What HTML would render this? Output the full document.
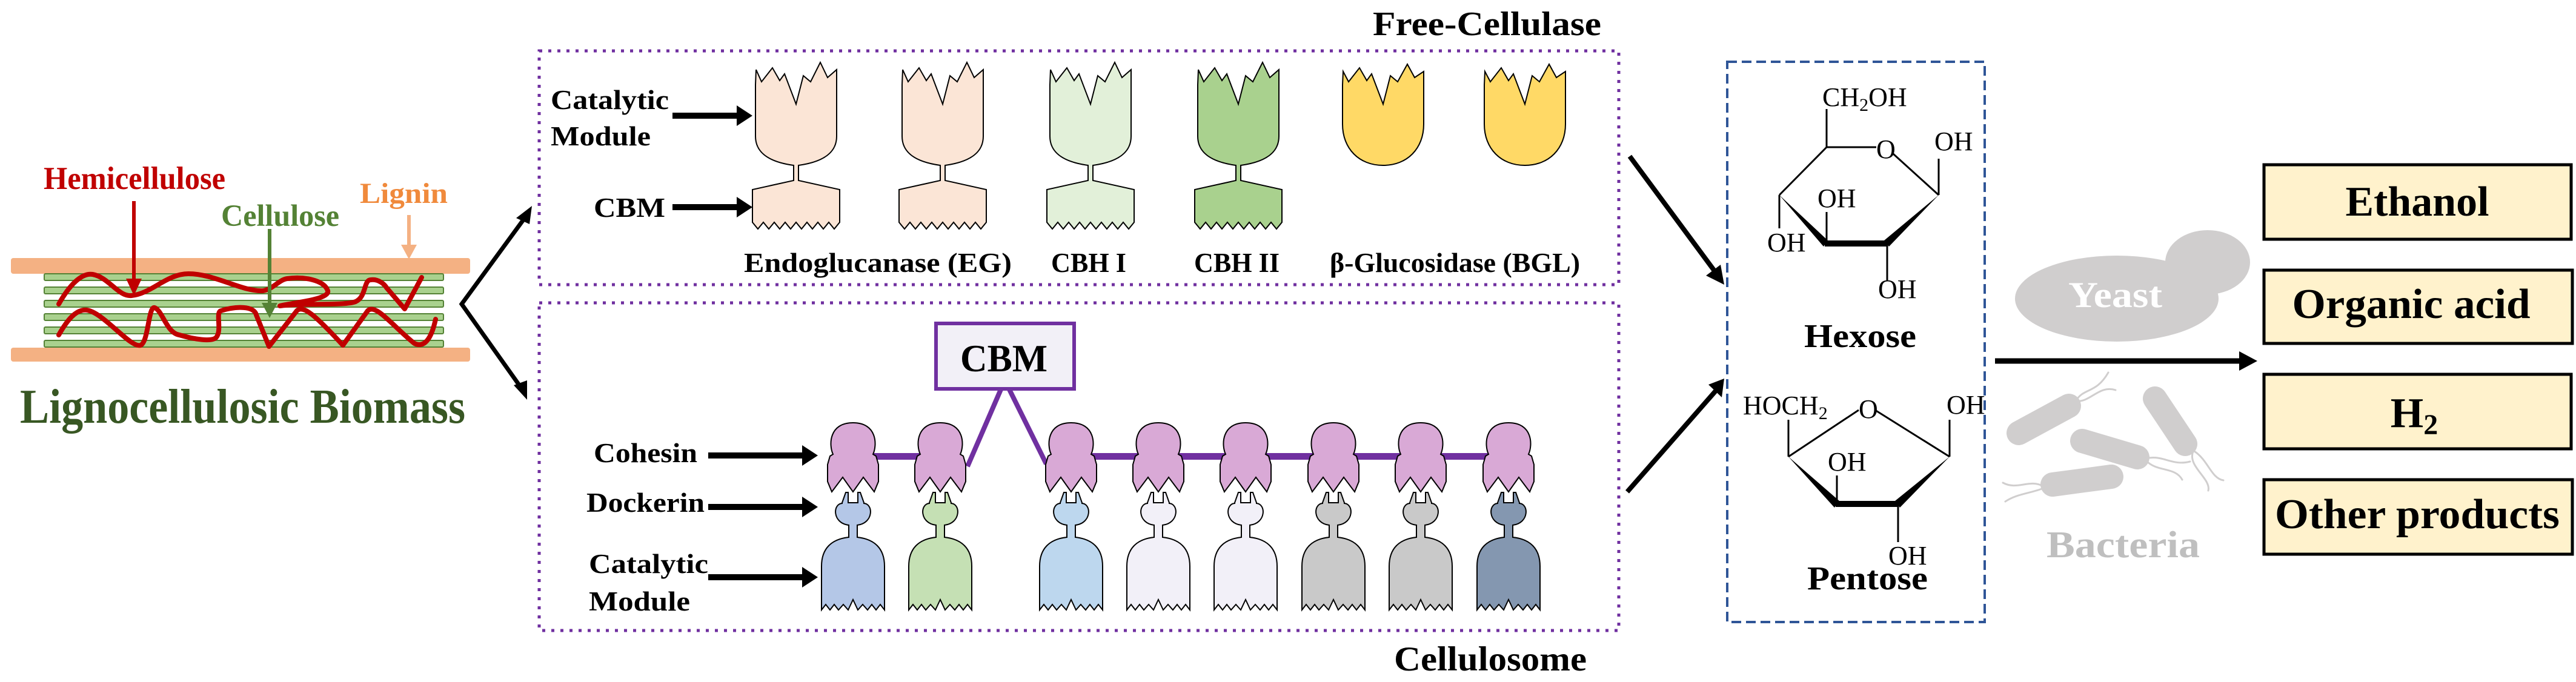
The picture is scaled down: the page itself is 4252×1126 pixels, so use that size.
<!DOCTYPE html>
<html><head><meta charset="utf-8"><style>
html,body{margin:0;padding:0;background:#fff;}
svg{display:block;}
text{font-family:"Liberation Serif",serif;}
.b{font-weight:bold;}
</style></head><body>
<svg width="4252" height="1126" viewBox="0 0 4252 1126" xmlns="http://www.w3.org/2000/svg">

<!-- ============ Lignocellulosic biomass ============ -->
<text x="72" y="312" class="b" font-size="53" fill="#c00000" textLength="300" lengthAdjust="spacingAndGlyphs">Hemicellulose</text>
<text x="365" y="373" class="b" font-size="51" fill="#548235" textLength="195" lengthAdjust="spacingAndGlyphs">Cellulose</text>
<text x="594" y="335" class="b" font-size="48" fill="#f08a3c" textLength="145" lengthAdjust="spacingAndGlyphs">Lignin</text>

<rect x="18" y="426" width="758" height="26" rx="4" fill="#f4b183"/>
<rect x="18" y="574" width="758" height="23" rx="4" fill="#f4b183"/>
<g fill="#a9d18e" stroke="#548235" stroke-width="2">
<rect x="73" y="452" width="659" height="11" rx="2"/>
<rect x="73" y="474" width="659" height="11" rx="2"/>
<rect x="73" y="496" width="659" height="11" rx="2"/>
<rect x="73" y="518" width="659" height="11" rx="2"/>
<rect x="73" y="540" width="659" height="11" rx="2"/>
<rect x="73" y="562" width="659" height="11" rx="2"/>
</g>
<g fill="none" stroke="#c00000" stroke-width="8" stroke-linecap="round" stroke-linejoin="round">
<path d="M97,502 C115,470 135,450 153,453 C180,458 195,490 217,488 C250,485 275,452 311,452 C355,452 400,482 434,480 C450,478 460,462 474,460 C500,456 535,462 541,480 C545,495 480,500 462,505 C500,500 570,505 587,498 C605,490 600,462 612,462 C625,460 635,470 638,475 L668,510 L696,458"/>
<path d="M97,553 C110,530 125,510 143,512 C170,515 215,575 232,570 C245,565 245,505 255,508 C268,512 275,550 296,553 C320,560 350,565 357,557 C367,545 355,515 365,513 C390,505 420,505 423,520 L444,572 L490,513 C500,503 520,520 566,570 L607,513 C620,500 650,540 684,567 C700,575 712,560 719,527"/>
</g>
<line x1="221" y1="332" x2="221" y2="468" stroke="#c00000" stroke-width="6"/>
<path d="M208,460 L234,460 L221,488 Z" fill="#c00000"/>
<line x1="445" y1="378" x2="445" y2="505" stroke="#548235" stroke-width="6"/>
<path d="M432,500 L458,500 L445,525 Z" fill="#548235"/>
<line x1="675" y1="355" x2="675" y2="408" stroke="#f4b183" stroke-width="6"/>
<path d="M662,404 L688,404 L675,428 Z" fill="#f4b183"/>

<text x="33" y="698" class="b" font-size="80" fill="#385723" textLength="735" lengthAdjust="spacingAndGlyphs">Lignocellulosic Biomass</text>

<!-- branch arrows -->
<polyline points="866,360 762,502 860,640" fill="none" stroke="#000" stroke-width="7"/>
<path d="M878,340 L852,360 L874,370 Z" fill="#000"/>
<path d="M870,660 L848,636 L870,628 Z" fill="#000"/>

<!-- ============ Free cellulase ============ -->
<text x="2266" y="58" class="b" font-size="56" fill="#000" textLength="377" lengthAdjust="spacingAndGlyphs">Free-Cellulase</text>
<rect x="890" y="84" width="1782" height="386" fill="none" stroke="#7030a0" stroke-width="5" stroke-dasharray="5 10"/>

<text x="909" y="180" class="b" font-size="46" textLength="195" lengthAdjust="spacingAndGlyphs">Catalytic</text>
<text x="909" y="240" class="b" font-size="46" textLength="165" lengthAdjust="spacingAndGlyphs">Module</text>
<line x1="1110" y1="191" x2="1222" y2="191" stroke="#000" stroke-width="10"/>
<path d="M1216,174 L1242,191 L1216,208 Z" fill="#000"/>
<text x="980" y="358" class="b" font-size="46" textLength="118" lengthAdjust="spacingAndGlyphs">CBM</text>
<line x1="1110" y1="342" x2="1222" y2="342" stroke="#000" stroke-width="10"/>
<path d="M1216,325 L1242,342 L1216,359 Z" fill="#000"/>

<g stroke="#000" stroke-width="2" stroke-linejoin="miter">
<path id="fe" d="M-67,140 L-66,115 L-57,135 L-39,112 L-27,133 L-19,122 L0,172 L12,125 L24,135 L40,103 L52,128 L67,115 L67,225 C67,255 40,268 4,273 L4,298 L72,313 L72,367 L63,378 L54,367 L45,378 L36,367 L27,378 L18,367 L9,378 L0,367 L-9,378 L-18,367 L-27,378 L-36,367 L-45,378 L-54,367 L-63,378 L-72,367 L-72,313 L-4,298 L-4,273 C-40,268 -67,255 -67,225 Z" transform="translate(1314,0)" fill="#fbe5d6"/>
<use href="#fe" x="242" fill="#fbe5d6"/>
<path d="M-67,140 L-66,115 L-57,135 L-39,112 L-27,133 L-19,122 L0,172 L12,125 L24,135 L40,103 L52,128 L67,115 L67,225 C67,255 40,268 4,273 L4,298 L72,313 L72,367 L63,378 L54,367 L45,378 L36,367 L27,378 L18,367 L9,378 L0,367 L-9,378 L-18,367 L-27,378 L-36,367 L-45,378 L-54,367 L-63,378 L-72,367 L-72,313 L-4,298 L-4,273 C-40,268 -67,255 -67,225 Z" transform="translate(1800,0)" fill="#e2f0d9"/>
<path d="M-67,140 L-66,115 L-57,135 L-39,112 L-27,133 L-19,122 L0,172 L12,125 L24,135 L40,103 L52,128 L67,115 L67,225 C67,255 40,268 4,273 L4,298 L72,313 L72,367 L63,378 L54,367 L45,378 L36,367 L27,378 L18,367 L9,378 L0,367 L-9,378 L-18,367 L-27,378 L-36,367 L-45,378 L-54,367 L-63,378 L-72,367 L-72,313 L-4,298 L-4,273 C-40,268 -67,255 -67,225 Z" transform="translate(2044,0)" fill="#a9d18e"/>
<path d="M-67,140 L-66,118 L-57,135 L-39,112 L-27,133 L-19,122 L0,172 L12,125 L24,135 L40,106 L52,128 L67,118 L67,205 C67,245 40,273 0,273 C-40,273 -67,245 -67,205 Z" transform="translate(2283,0)" fill="#ffd966"/>
<path d="M-67,140 L-66,118 L-57,135 L-39,112 L-27,133 L-19,122 L0,172 L12,125 L24,135 L40,106 L52,128 L67,118 L67,205 C67,245 40,273 0,273 C-40,273 -67,245 -67,205 Z" transform="translate(2517,0)" fill="#ffd966"/>
</g>
<g class="b" font-size="46">
<text x="1228" y="449" class="b" textLength="442" lengthAdjust="spacingAndGlyphs">Endoglucanase (EG)</text>
<text x="1735" y="449" class="b" textLength="124" lengthAdjust="spacingAndGlyphs">CBH I</text>
<text x="1971" y="449" class="b" textLength="141" lengthAdjust="spacingAndGlyphs">CBH II</text>
<text x="2195" y="449" class="b" textLength="413" lengthAdjust="spacingAndGlyphs">β-Glucosidase (BGL)</text>
</g>

<!-- ============ Cellulosome ============ -->
<rect x="890" y="500" width="1782" height="541" fill="none" stroke="#7030a0" stroke-width="5" stroke-dasharray="5 10"/>
<text x="2301" y="1107" class="b" font-size="57" textLength="318" lengthAdjust="spacingAndGlyphs">Cellulosome</text>

<rect x="1545" y="534" width="228" height="108" fill="#f2f0f7" stroke="#7030a0" stroke-width="6"/>
<text x="1585" y="613" class="b" font-size="64" textLength="144" lengthAdjust="spacingAndGlyphs">CBM</text>
<g stroke="#7030a0" stroke-width="8" fill="none">
<line x1="1652" y1="643" x2="1597" y2="770"/>
<line x1="1666" y1="643" x2="1727" y2="766"/>
</g>
<rect x="1411" y="748" width="141" height="11" fill="#7030a0"/>
<rect x="1768" y="748" width="722" height="11" fill="#7030a0"/>

<text x="980" y="763" class="b" font-size="45" textLength="171" lengthAdjust="spacingAndGlyphs">Cohesin</text>
<line x1="1169" y1="752" x2="1330" y2="752" stroke="#000" stroke-width="10"/>
<path d="M1324,735 L1350,752 L1324,769 Z" fill="#000"/>
<text x="968" y="845" class="b" font-size="45" textLength="195" lengthAdjust="spacingAndGlyphs">Dockerin</text>
<line x1="1169" y1="837" x2="1330" y2="837" stroke="#000" stroke-width="10"/>
<path d="M1324,820 L1350,837 L1324,854 Z" fill="#000"/>
<text x="972" y="946" class="b" font-size="45" textLength="197" lengthAdjust="spacingAndGlyphs">Catalytic</text>
<text x="972" y="1008" class="b" font-size="45" textLength="167" lengthAdjust="spacingAndGlyphs">Module</text>
<line x1="1169" y1="953" x2="1330" y2="953" stroke="#000" stroke-width="10"/>
<path d="M1324,936 L1350,953 L1324,970 Z" fill="#000"/>

<defs>
<path id="coh" d="M-33,750 C-40,735 -40,698 0,698 C40,698 40,735 33,750 L38,753 L42,767 L42,795 L35,812 L17,788 L0,812 L-17,788 L-35,812 L-42,795 L-42,767 L-38,753 Z"/>
<path id="cat" d="M-8,813 L-8,830 L8,830 L8,813 L12,813 L18,830 L18,831 C34,832 34,864 7,867 L7,887 C35,890 52,905 52,935 L52,1007 L45,998 L38,1007 L31,998 L24,1007 L16,998 L8,1007 L0,990 L-8,1007 L-16,998 L-24,1007 L-31,998 L-38,1007 L-45,998 L-52,1007 L-52,935 C-52,905 -35,890 -7,887 L-7,867 C-34,864 -34,832 -18,831 L-18,830 L-12,813 Z"/>
</defs>
<g stroke="#000" stroke-width="2">
<use href="#coh" x="1408" fill="#d9a9d6"/>
<use href="#coh" x="1552" fill="#d9a9d6"/>
<use href="#coh" x="1768" fill="#d9a9d6"/>
<use href="#coh" x="1912" fill="#d9a9d6"/>
<use href="#coh" x="2056" fill="#d9a9d6"/>
<use href="#coh" x="2201" fill="#d9a9d6"/>
<use href="#coh" x="2345" fill="#d9a9d6"/>
<use href="#coh" x="2490" fill="#d9a9d6"/>
<use href="#cat" x="1408" fill="#b4c7e7"/>
<use href="#cat" x="1552" fill="#c5e0b4"/>
<use href="#cat" x="1768" fill="#bdd7ee"/>
<use href="#cat" x="1912" fill="#f2f0f8"/>
<use href="#cat" x="2056" fill="#f2f0f8"/>
<use href="#cat" x="2201" fill="#c9c9c9"/>
<use href="#cat" x="2345" fill="#c9c9c9"/>
<use href="#cat" x="2490" fill="#8497b0"/>
</g>

<!-- arrows to sugars -->
<line x1="2690" y1="258" x2="2832" y2="450" stroke="#000" stroke-width="8"/>
<path d="M2816,455 L2846,470 L2840,437 Z" fill="#000"/>
<line x1="2686" y1="812" x2="2834" y2="643" stroke="#000" stroke-width="8"/>
<path d="M2820,635 L2846,625 L2842,656 Z" fill="#000"/>

<!-- ============ Sugars ============ -->
<rect x="2851" y="102" width="425" height="925" fill="none" stroke="#2f5597" stroke-width="4" stroke-dasharray="16 8"/>
<g font-size="44" fill="#000">
<text x="3008" y="175">CH<tspan font-size="30" dy="8">2</tspan><tspan dy="-8">OH</tspan></text>
<text x="3097" y="261">O</text>
<text x="3193" y="248">OH</text>
<text x="3000" y="342">OH</text>
<text x="2917" y="415">OH</text>
<text x="3100" y="492">OH</text>
</g>
<g stroke="#000" stroke-width="3" fill="none">
<line x1="3015" y1="180" x2="3015" y2="243"/>
<line x1="3015" y1="243" x2="3097" y2="243"/>
<line x1="3125" y1="254" x2="3200" y2="322"/>
<line x1="3200" y1="262" x2="3200" y2="322"/>
<line x1="3015" y1="243" x2="2937" y2="322"/>
<line x1="2937" y1="322" x2="2937" y2="377"/>
<line x1="3015" y1="350" x2="3015" y2="402"/>
<line x1="3115" y1="402" x2="3115" y2="463"/>
</g>
<path d="M2937,322 L3017,397 L3010,407 Z" fill="#000"/>
<rect x="3012" y="397" width="103" height="10" fill="#000"/>
<path d="M3200,322 L3110,397 L3118,407 Z" fill="#000"/>
<text x="2978" y="573" class="b" font-size="55" textLength="185" lengthAdjust="spacingAndGlyphs">Hexose</text>

<g font-size="44" fill="#000">
<text x="2877" y="684">HOCH<tspan font-size="30" dy="8">2</tspan></text>
<text x="3068" y="690">O</text>
<text x="3213" y="683">OH</text>
<text x="3017" y="777">OH</text>
<text x="3117" y="932">OH</text>
</g>
<g stroke="#000" stroke-width="3" fill="none">
<line x1="2952" y1="693" x2="2952" y2="754"/>
<line x1="2952" y1="754" x2="3068" y2="677"/>
<line x1="3095" y1="677" x2="3218" y2="754"/>
<line x1="3218" y1="693" x2="3218" y2="754"/>
<line x1="3032" y1="785" x2="3032" y2="832"/>
<line x1="3133" y1="832" x2="3133" y2="895"/>
</g>
<path d="M2952,754 L3036,827 L3028,838 Z" fill="#000"/>
<rect x="3030" y="827" width="104" height="10" fill="#000"/>
<path d="M3218,754 L3128,827 L3136,838 Z" fill="#000"/>
<text x="2983" y="973" class="b" font-size="55" textLength="199" lengthAdjust="spacingAndGlyphs">Pentose</text>

<!-- ============ Microbes ============ -->
<ellipse cx="3494" cy="493" rx="168" ry="71" fill="#d0cece"/>
<ellipse cx="3644" cy="433" rx="70" ry="53" fill="#d0cece"/>
<text x="3414" y="507" class="b" font-size="60" fill="#fff" textLength="155" lengthAdjust="spacingAndGlyphs">Yeast</text>
<g stroke="#d0cece" stroke-linecap="round" fill="none">
<line x1="3332" y1="715" x2="3415" y2="670" stroke-width="40"/>
<line x1="3557" y1="658" x2="3607" y2="733" stroke-width="40"/>
<line x1="3437" y1="728" x2="3528" y2="755" stroke-width="40"/>
<line x1="3388" y1="800" x2="3485" y2="787" stroke-width="40"/>
<g stroke-width="3">
<path d="M3427,661 C3440,640 3460,650 3480,615"/>
<path d="M3427,662 C3450,665 3465,635 3492,644"/>
<path d="M3542,757 C3570,750 3585,770 3615,762"/>
<path d="M3542,760 C3560,780 3590,770 3602,792"/>
<path d="M3620,745 C3610,770 3650,790 3645,810"/>
<path d="M3622,745 C3645,760 3650,790 3670,793"/>
<path d="M3373,803 C3350,790 3330,810 3306,797"/>
<path d="M3373,806 C3350,815 3330,815 3310,828"/>
</g>
</g>
<text x="3378" y="920" class="b" font-size="62" fill="#bfbfbf" textLength="253" lengthAdjust="spacingAndGlyphs">Bacteria</text>

<!-- main arrow -->
<line x1="3293" y1="596" x2="3700" y2="596" stroke="#000" stroke-width="9"/>
<path d="M3696,580 L3726,596 L3696,612 Z" fill="#000"/>

<!-- ============ Products ============ -->
<g fill="#fff2cc" stroke="#000" stroke-width="5">
<rect x="3737" y="272" width="507" height="123"/>
<rect x="3737" y="446" width="509" height="121"/>
<rect x="3737" y="618" width="507" height="123"/>
<rect x="3737" y="792" width="509" height="123"/>
</g>
<g class="b" font-size="70" text-anchor="middle">
<text x="3990" y="356" class="b" textLength="237" lengthAdjust="spacingAndGlyphs">Ethanol</text>
<text x="3980" y="525" class="b" textLength="393" lengthAdjust="spacingAndGlyphs">Organic acid</text>
<text x="3985" y="705" class="b">H<tspan font-size="48" dy="12">2</tspan></text>
<text x="3990" y="872" class="b" textLength="470" lengthAdjust="spacingAndGlyphs">Other products</text>
</g>
</svg>
</body></html>
